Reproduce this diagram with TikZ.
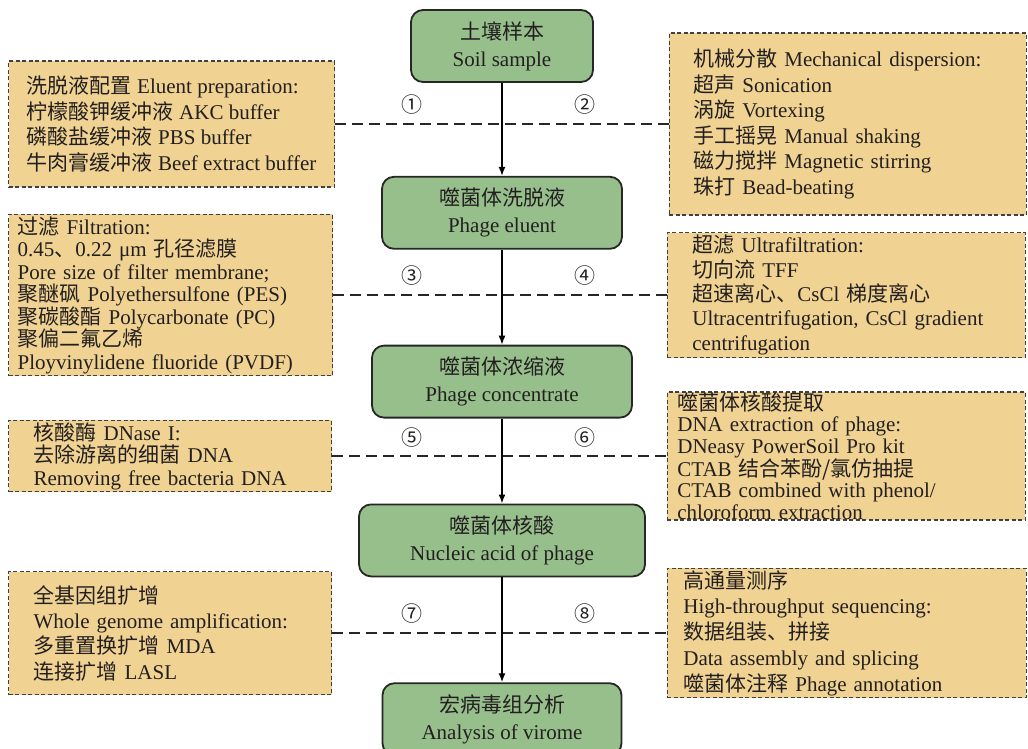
\documentclass[tikz,border=0pt]{standalone}
\usepackage{fontspec}
\setmainfont{Liberation Serif}
\newfontfamily\cjk{Noto Sans CJK SC}
\usepackage{tikz}
\usetikzlibrary{positioning, arrows.meta}
\definecolor{verdeFase}{RGB}{151,191,140}
\definecolor{arenaNota}{RGB}{240,211,146}
\definecolor{tintaTexto}{RGB}{35,31,32}
\newcommand{\zhtxt}[1]{{\cjk #1}}

\begin{document}
\begin{tikzpicture}[
        x=1pt, y=-1pt,
        fase/.style={
            rectangle,
            rounded corners=12pt,
            draw=black!85,
            line width=1.8pt,
            fill=verdeFase,
            align=center,
            minimum height=72pt,
            text=tintaTexto,
            font=\fontsize{21}{27}\selectfont
        },
        nota/.style={
            rectangle,
            draw=black!75,
            dash pattern=on 4pt off 2.5pt,
            line width=1.3pt,
            fill=arenaNota,
            align=left,
            inner ysep=2pt,
            text=tintaTexto,
            font=\fontsize{21}{25.5}\selectfont
        },
        marca/.style={
            inner sep=0pt,
            text=tintaTexto,
            font=\cjk\fontsize{21}{21}\selectfont
        },
        flecha/.style={
            -{Latex[length=9pt, width=7pt]},
            line width=1.5pt
        },
        enlace/.style={
            dash pattern=on 11pt off 6pt,
            line width=2pt,
            draw=black!85
        }
    ]
        \useasboundingbox (0,0) rectangle (1028,748);

        % main chain
        \node[fase, minimum width=182pt] (suelo) at (502,46) {\zhtxt{土壤样本}\\Soil sample};
        \node[fase, minimum width=240pt, below=93pt of suelo] (eluido) {\zhtxt{噬菌体洗脱液}\\Phage eluent};
        \node[fase, minimum width=260pt, below=95pt of eluido] (concentrado) {\zhtxt{噬菌体浓缩液}\\Phage concentrate};
        \node[fase, minimum width=286pt, below=85pt of concentrado] (acido) {\zhtxt{噬菌体核酸}\\Nucleic acid of phage};
        \node[fase, minimum width=239pt, below=105pt of acido] (viroma) {\zhtxt{宏病毒组分析}\\Analysis of virome};

        % side notes
        \node[nota, minimum width=326pt, minimum height=126pt, anchor=west] (lavado) at (8,124)
            {\zhtxt{洗脱液配置} Eluent preparation:\\
             \zhtxt{柠檬酸钾缓冲液} AKC buffer\\
             \zhtxt{磷酸盐缓冲液} PBS buffer\\
             \zhtxt{牛肉膏缓冲液} Beef extract buffer};
        \node[nota, minimum width=357pt, minimum height=182pt, text width=309pt, anchor=east] (dispersion) at (1027,124)
            {\zhtxt{机械分散} Mechanical dispersion:\\
             \zhtxt{超声} Sonication\\
             \zhtxt{涡旋} Vortexing\\
             \zhtxt{手工摇晃} Manual shaking\\
             \zhtxt{磁力搅拌} Magnetic stirring\\
             \zhtxt{珠打} Bead-beating};
        \node[nota, minimum width=324pt, minimum height=157pt, text width=306pt, anchor=west,
              font=\fontsize{21}{22.5}\selectfont] (filtracion) at (8,295)
            {\zhtxt{过滤} Filtration:\\
             0.45\zhtxt{、}0.22 μm \zhtxt{孔径滤膜}\\
             Pore size of filter membrane;\\
             \zhtxt{聚醚砜} Polyethersulfone (PES)\\
             \zhtxt{聚碳酸酯} Polycarbonate (PC)\\
             \zhtxt{聚偏二氟乙烯}\\
             Ployvinylidene fluoride (PVDF)};
        \node[nota, minimum width=358pt, minimum height=125pt, text width=308pt, anchor=east,
              font=\fontsize{21}{24.3}\selectfont] (ultrafiltro) at (1026,295)
            {\zhtxt{超滤} Ultrafiltration:\\
             \zhtxt{切向流} TFF\\
             \zhtxt{超速离心、}CsCl \zhtxt{梯度离心}\\
             Ultracentrifugation, CsCl gradient\\
             centrifugation};
        \node[nota, minimum width=323pt, minimum height=67pt, text width=273pt, anchor=west,
              font=\fontsize{21}{22.5}\selectfont] (dnasa) at (8,456)
            {\zhtxt{核酸酶} DNase I:\\
             \zhtxt{去除游离的细菌} DNA\\
             Removing free bacteria DNA};
        \node[nota, minimum width=358pt, minimum height=128pt, text width=338pt, anchor=east,
              inner ysep=0pt, font=\fontsize{21}{21.5}\selectfont] (extraccion) at (1026,456)
            {\zhtxt{噬菌体核酸提取}\\
             DNA extraction of phage:\\
             DNeasy PowerSoil Pro kit\\
             CTAB \zhtxt{结合苯酚/氯仿抽提}\\
             CTAB combined with phenol/\\
             chloroform extraction};
        \node[nota, minimum width=323pt, minimum height=123pt, text width=273pt, anchor=west,
              font=\fontsize{21}{25.3}\selectfont] (amplificacion) at (8,633)
            {\zhtxt{全基因组扩增}\\
             Whole genome amplification:\\
             \zhtxt{多重置换扩增} MDA\\
             \zhtxt{连接扩增} LASL};
        \node[nota, minimum width=359pt, minimum height=127pt, text width=327pt, anchor=east,
              font=\fontsize{21}{25.7}\selectfont] (secuenciacion) at (1027,633)
            {\zhtxt{高通量测序}\\
             High-throughput sequencing:\\
             \zhtxt{数据组装、拼接}\\
             Data assembly and splicing\\
             \zhtxt{噬菌体注释} Phage annotation};

        % step numbers
        \node[marca] (n1) at (412,105) {①};
        \node[marca] (n2) at (585,105) {②};
        \node[marca] (n3) at (412,276) {③};
        \node[marca] (n4) at (585,276) {④};
        \node[marca] (n5) at (412,438) {⑤};
        \node[marca] (n6) at (585,438) {⑥};
        \node[marca] (n7) at (412,614) {⑦};
        \node[marca] (n8) at (585,614) {⑧};

        \draw[enlace] (lavado) -- (dispersion);
        \draw[enlace] (filtracion) -- (ultrafiltro);
        \draw[enlace] (dnasa) -- (extraccion);
        \draw[enlace] (amplificacion) -- (secuenciacion);

        \draw[flecha] (suelo) -- (eluido);
        \draw[flecha] (eluido) -- (concentrado);
        \draw[flecha] (concentrado) -- (acido);
        \draw[flecha] (acido) -- (viroma);

    \end{tikzpicture}
\end{document}
